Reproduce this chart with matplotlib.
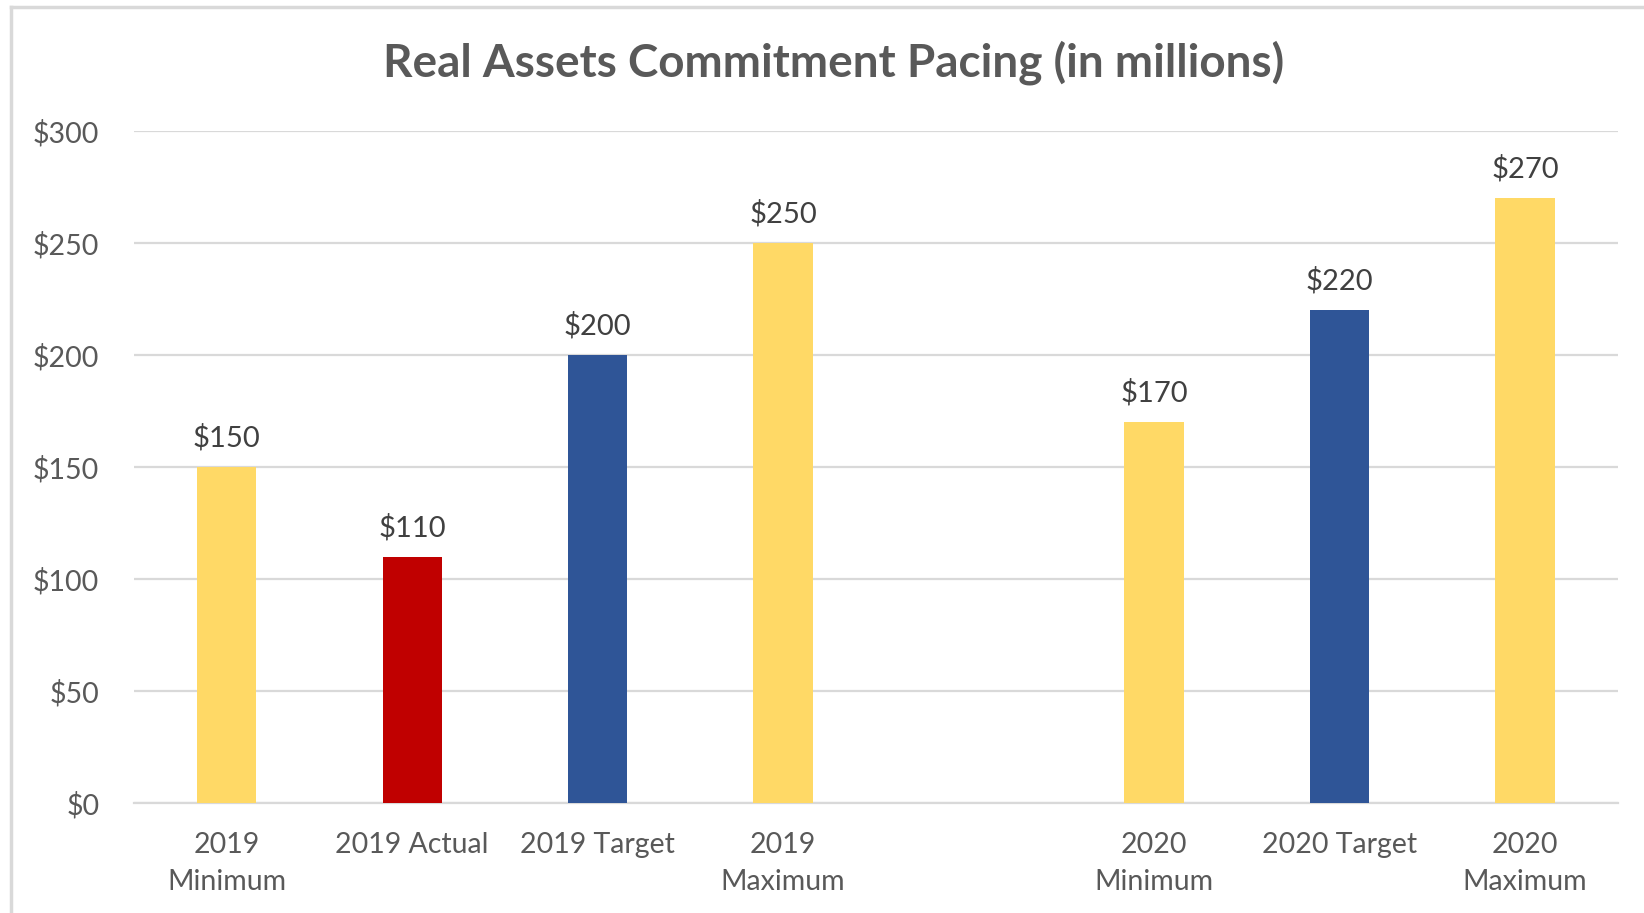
import matplotlib.pyplot as plt
from matplotlib.lines import Line2D

labels = ['2019\nMinimum', '2019 Actual', '2019 Target', '2019\nMaximum',
          '2020\nMinimum', '2020 Target', '2020\nMaximum']
values = [150, 110, 200, 250, 170, 220, 270]
slots = [0, 1, 2, 3, 5, 6, 7]  # slot 4 is left empty
yellow = '#FFD966'
red = '#C00000'
blue = '#2F5597'
colors = [yellow, red, blue, yellow, yellow, blue, yellow]
yticks = [0, 50, 100, 150, 200, 250, 300]

plt.rcParams['font.family'] = ['Lato', 'DejaVu Sans']

fig = plt.figure(figsize=(16.44, 9.13), dpi=100)
ax = fig.add_axes([0.0815, 0.1205, 0.984 - 0.0815, 0.8565 - 0.1205])

ax.bar(slots, values, width=0.32, color=colors, zorder=3)
for x, v in zip(slots, values):
    ax.annotate(f'${v}', (x, v), xytext=(0, 11), textcoords='offset points',
                ha='center', va='bottom', fontsize=21, color='#404040')

ax.set_xlim(-0.5, 7.5)
ax.set_ylim(0, 300)
ax.set_yticks(yticks)
ax.set_yticklabels([f'${t}' for t in yticks])
ax.set_xticks(slots)
ax.set_xticklabels(labels, linespacing=1.5)
ax.tick_params(axis='both', length=0, labelsize=20.5, labelcolor='#595959')
ax.tick_params(axis='y', pad=25)
ax.tick_params(axis='x', pad=21)
for lbl in ax.get_xticklabels():
    lbl.set_verticalalignment('top')

ax.grid(axis='y', color='#D9D9D9', linewidth=1.6, zorder=0)
for side in ['top', 'right', 'left']:
    ax.spines[side].set_visible(False)
ax.spines['bottom'].set_color('#D9D9D9')
ax.spines['bottom'].set_linewidth(1.6)

fig.text(0.507, 0.931, 'Real Assets Commitment Pacing (in millions)',
         ha='center', va='center', fontsize=33, fontweight='bold', color='#595959')

# outer chart frame (left and top edges visible in the screenshot)
fig.add_artist(Line2D([11 / 1644, 11 / 1644], [0, 1 - 7 / 913], transform=fig.transFigure,
                      color='#D9D9D9', linewidth=2.5))
fig.add_artist(Line2D([11 / 1644, 1], [1 - 7 / 913, 1 - 7 / 913], transform=fig.transFigure,
                      color='#D9D9D9', linewidth=2.5))

fig.savefig('out.png', dpi=100)
